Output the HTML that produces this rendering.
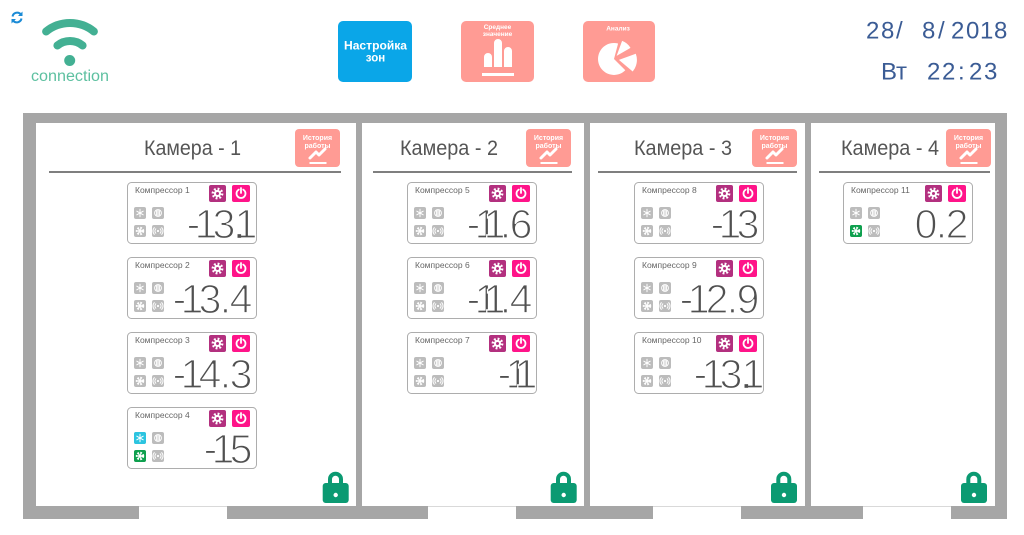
<!DOCTYPE html>
<html><head><meta charset="utf-8"><style>
html,body{margin:0;padding:0;background:#fff;width:1024px;height:535px;overflow:hidden}
svg{display:block}
text{font-family:"Liberation Sans","Noto Sans CJK SC",sans-serif}
</style></head><body>
<svg width="1024" height="535" viewBox="0 0 1024 535" xmlns="http://www.w3.org/2000/svg">
<defs>
<g id="gear"><circle cx="8.5" cy="8.5" r="3.6" fill="#fff"/><circle cx="8.5" cy="8.5" r="4.6" fill="none" stroke="#fff" stroke-width="2.6" stroke-dasharray="1.8 1.8"/><circle cx="8.5" cy="8.5" r="1.5" fill="#b3307f"/></g>
<g id="power" fill="none" stroke="#fff" stroke-width="1.8" stroke-linecap="round"><path d="M11.25 4.6 A4.5 4.5 0 1 1 6.75 4.6"/><path d="M9 3 V8"/></g>
<g id="snow" stroke="#fff" stroke-width="1" stroke-linecap="round"><path d="M6 2.3V9.7M2.8 4.2L9.2 7.8M2.8 7.8L9.2 4.2"/></g>
<g id="defr" fill="none" stroke="#fff" stroke-width="1"><circle cx="6" cy="6" r="3.4"/><path d="M4.6 3.6V8.4M6 2.8V9.2M7.4 3.6V8.4"/></g>
<g id="fan"><circle cx="6" cy="6" r="3" fill="none" stroke="#fff" stroke-width="2.4" stroke-dasharray="1.6 1.2"/><circle cx="6" cy="6" r="1.8" fill="#fff"/></g>
<g id="radio" fill="none" stroke="#fff" stroke-width="1" stroke-linecap="round"><circle cx="6" cy="6" r="1.1" fill="#fff" stroke="none"/><path d="M3.8 3.8A3.2 3.2 0 0 0 3.8 8.2M8.2 3.8A3.2 3.2 0 0 1 8.2 8.2M2.3 2.6A5 5 0 0 0 2.3 9.4M9.7 2.6A5 5 0 0 1 9.7 9.4"/></g>
<g id="lock"><path d="M7.3 2 V-3.8 A5.5 5.5 0 0 1 18.3 -3.8 V2" fill="none" stroke="#0b9a72" stroke-width="4"/><rect x="0" y="0" width="26" height="20" rx="3" fill="#0b9a72"/><circle cx="13" cy="12" r="2.2" fill="#fff"/></g>
<g id="hist"><rect x="0" y="129" width="45" height="38" rx="4" fill="#ff9b94"/>
<text x="22.5" y="140" font-size="7" font-weight="bold" fill="#fff" text-anchor="middle">История</text>
<text x="22.5" y="148" font-size="7" font-weight="bold" fill="#fff" text-anchor="middle">работы</text>
<polyline points="15,158 21,152 24,155 30,149" fill="none" stroke="#fff" stroke-width="3" stroke-linecap="round" stroke-linejoin="round"/>
<path d="M14.5 163H31.5" stroke="#fff" stroke-width="2"/></g>
<g id="box">
<rect x="0.5" y="0.5" width="129" height="61" rx="4" fill="#fff" stroke="#adadad" stroke-width="1"/>
<rect x="82" y="3" width="17" height="17" rx="2" fill="#b3307f"/><use href="#gear" x="82" y="3"/>
<rect x="105" y="3" width="18" height="17" rx="2" fill="#ff1489"/><use href="#power" x="105" y="3"/>
<rect x="7" y="25" width="12" height="12" rx="2" fill="#bcbcbc"/>
<rect x="25" y="25" width="12" height="12" rx="2" fill="#bcbcbc"/><use href="#defr" x="25" y="25"/>
<rect x="7" y="43" width="12" height="12" rx="2" fill="#bcbcbc"/>
<rect x="25" y="43" width="12" height="12" rx="2" fill="#bcbcbc"/><use href="#radio" x="25" y="43"/>
</g>
</defs>

<!-- header -->
<g fill="none" stroke="#1b8bd6" stroke-width="2">
<path d="M12.5 16.5 A4.8 4.8 0 0 1 21 14.5"/><path d="M21.5 18.5 A4.8 4.8 0 0 1 13 20.5"/>
</g>
<path d="M22.5 11.5 L22.5 16 L18 16 Z" fill="#1b8bd6"/><path d="M11.5 23.5 L11.5 19 L16 19 Z" fill="#1b8bd6"/>

<g fill="none" stroke="#43b093" stroke-width="8" stroke-linecap="round">
<path d="M46.1 31.5 A38 38 0 0 1 93.9 31.5"/>
<path d="M57.4 45.5 A20 20 0 0 1 82.6 45.5"/>
</g>
<circle cx="69.7" cy="60.5" r="5.5" fill="#43b093"/>
<text x="31" y="81" font-size="15.5" fill="#5dc0a0" textLength="78" lengthAdjust="spacingAndGlyphs">connection</text>

<rect x="338" y="21" width="74" height="61" rx="5" fill="#0aa6e8"/>
<text x="375.5" y="49.5" font-size="11.5" font-weight="bold" fill="#fff" text-anchor="middle" textLength="63" lengthAdjust="spacingAndGlyphs">Настройка</text>
<text x="375.5" y="61.5" font-size="11.5" font-weight="bold" fill="#fff" text-anchor="middle">зон</text>

<rect x="461" y="21" width="73" height="61" rx="5" fill="#ff9b94"/>
<text x="497.5" y="29" font-size="6.5" font-weight="bold" fill="#fff" text-anchor="middle">Среднее</text>
<text x="497.5" y="36" font-size="6.5" font-weight="bold" fill="#fff" text-anchor="middle">значение</text>
<path d="M484 67V57a4 4 0 0 1 8 0V67Z M494 67V43a4 4 0 0 1 8 0V67Z M504 67V51a4 4 0 0 1 8 0V67Z" fill="#fff"/>
<rect x="482" y="73" width="32" height="3" fill="#fff"/>

<rect x="583" y="21" width="72" height="61" rx="5" fill="#ff9b94"/>
<text x="618" y="30.5" font-size="6.5" font-weight="bold" fill="#fff" text-anchor="middle">Анализ</text>
<path d="M614 59 L625.3 70.3 A16 16 0 1 1 618.1 43.5 Z" fill="#fff"/>
<path d="M616.6 55.9 L622.1 40.9 A16 16 0 0 1 630.5 47.9 Z" fill="#fff"/>
<path d="M618.9 59.9 L635.8 53.7 A18 18 0 0 1 632.7 71.5 Z" fill="#fff"/>

<g font-size="24" fill="#3b5c95">
<text x="866 881 896" y="38.3">28/</text>
<text x="922 938 951 966 980 994" y="38.3">8/2018</text>
<text x="881 896" y="79.5">Вт</text>
<text x="927 942 958 969 984" y="79.5">22:23</text>
</g>

<!-- frame -->
<g fill="#a6a6a6">
<rect x="23" y="113" width="984" height="10"/>
<rect x="23" y="113" width="13" height="406"/>
<rect x="995" y="113" width="12" height="406"/>
<rect x="356" y="113" width="6" height="394"/>
<rect x="584" y="113" width="6" height="394"/>
<rect x="805" y="113" width="6" height="394"/>
<rect x="23" y="506" width="116" height="13"/>
<rect x="227" y="506" width="201" height="13"/>
<rect x="516" y="506" width="137" height="13"/>
<rect x="741" y="506" width="122" height="13"/>
<rect x="951" y="506" width="56" height="13"/>
</g>
<g stroke="#d9d9d9" stroke-width="1">
<path d="M139 506.5H227M428 506.5H516M653 506.5H741M863 506.5H951"/>
</g>

<!-- panel headers -->
<g font-size="21" fill="#555">
<text x="144" y="155" textLength="97" lengthAdjust="spacingAndGlyphs">Камера - 1</text>
<text x="400" y="155" textLength="98" lengthAdjust="spacingAndGlyphs">Камера - 2</text>
<text x="634" y="155" textLength="98" lengthAdjust="spacingAndGlyphs">Камера - 3</text>
<text x="841" y="155" textLength="98" lengthAdjust="spacingAndGlyphs">Камера - 4</text>
</g>
<g stroke="#555" stroke-width="1.6">
<path d="M49 172H341M373 172H572M598 172H797M819 172H990"/>
</g>
<use href="#hist" x="295" y="0"/>
<use href="#hist" x="526" y="0"/>
<use href="#hist" x="752" y="0"/>
<use href="#hist" x="946" y="0"/>

<!-- boxes -->
<use href="#box" x="127" y="182"/>
<use href="#box" x="127" y="257"/>
<use href="#box" x="127" y="332"/>
<use href="#box" x="127" y="407"/>
<use href="#box" x="407" y="182"/>
<use href="#box" x="407" y="257"/>
<use href="#box" x="407" y="332"/>
<use href="#box" x="634" y="182"/>
<use href="#box" x="634" y="257"/>
<use href="#box" x="634" y="332"/>
<use href="#box" x="843" y="182"/>

<!-- active icon overrides -->
<rect x="134" y="432" width="12" height="12" rx="2" fill="#2bc4e0"/>
<rect x="134" y="450" width="12" height="12" rx="2" fill="#0ea04e"/>
<rect x="850" y="225" width="12" height="12" rx="2" fill="#0ea04e"/>

<!-- small icon glyphs -->
<g>
<use href="#snow" x="134" y="207"/><use href="#fan" x="134" y="225"/>
<use href="#snow" x="134" y="282"/><use href="#fan" x="134" y="300"/>
<use href="#snow" x="134" y="357"/><use href="#fan" x="134" y="375"/>
<use href="#snow" x="134" y="432"/><use href="#fan" x="134" y="450"/>
<use href="#snow" x="414" y="207"/><use href="#fan" x="414" y="225"/>
<use href="#snow" x="414" y="282"/><use href="#fan" x="414" y="300"/>
<use href="#snow" x="414" y="357"/><use href="#fan" x="414" y="375"/>
<use href="#snow" x="641" y="207"/><use href="#fan" x="641" y="225"/>
<use href="#snow" x="641" y="282"/><use href="#fan" x="641" y="300"/>
<use href="#snow" x="641" y="357"/><use href="#fan" x="641" y="375"/>
<use href="#snow" x="850" y="207"/><use href="#fan" x="850" y="225"/>
</g>

<!-- labels -->
<g font-size="8.5" fill="#666">
<text x="135" y="193">Компрессор 1</text>
<text x="135" y="268">Компрессор 2</text>
<text x="135" y="343">Компрессор 3</text>
<text x="135" y="418">Компрессор 4</text>
<text x="415" y="193">Компрессор 5</text>
<text x="415" y="268">Компрессор 6</text>
<text x="415" y="343">Компрессор 7</text>
<text x="642" y="193">Компрессор 8</text>
<text x="642" y="268">Компрессор 9</text>
<text x="642" y="343">Компрессор 10</text>
<text x="851" y="193">Компрессор 11</text>
</g>

<!-- values (each glyph centred on its segment cell) -->
<g font-size="41" fill="#505050" stroke="#fff" stroke-width="1.3" text-anchor="middle">
<text x="193.5 206 224 239.5 246" y="238">-13.1</text>
<text x="179.5 192 210 225.5 241" y="313">-13.4</text>
<text x="179.5 192 210 225.5 241" y="388">-14.3</text>
<text x="210.5 223 241" y="463">-15</text>
<text x="473.5 486 495 505.5 521" y="238">-11.6</text>
<text x="473.5 486 495 505.5 521" y="313">-11.4</text>
<text x="504.5 517 526" y="388">-11</text>
<text x="717.5 730 748" y="238">-13</text>
<text x="686.5 699 717 732.5 748" y="313">-12.9</text>
<text x="700.5 713 731 746.5 753" y="388">-13.1</text>
<text x="926 941.5 957" y="238">0.2</text>
</g>
<rect x="237.5" y="234.2" width="3.6" height="3.6" fill="#505050"/>
<rect x="744.5" y="384.2" width="3.6" height="3.6" fill="#505050"/>

<!-- locks -->
<use href="#lock" x="322.7" y="483"/>
<use href="#lock" x="550.7" y="483"/>
<use href="#lock" x="771" y="483"/>
<use href="#lock" x="961" y="483"/>
</svg>
</body></html>
